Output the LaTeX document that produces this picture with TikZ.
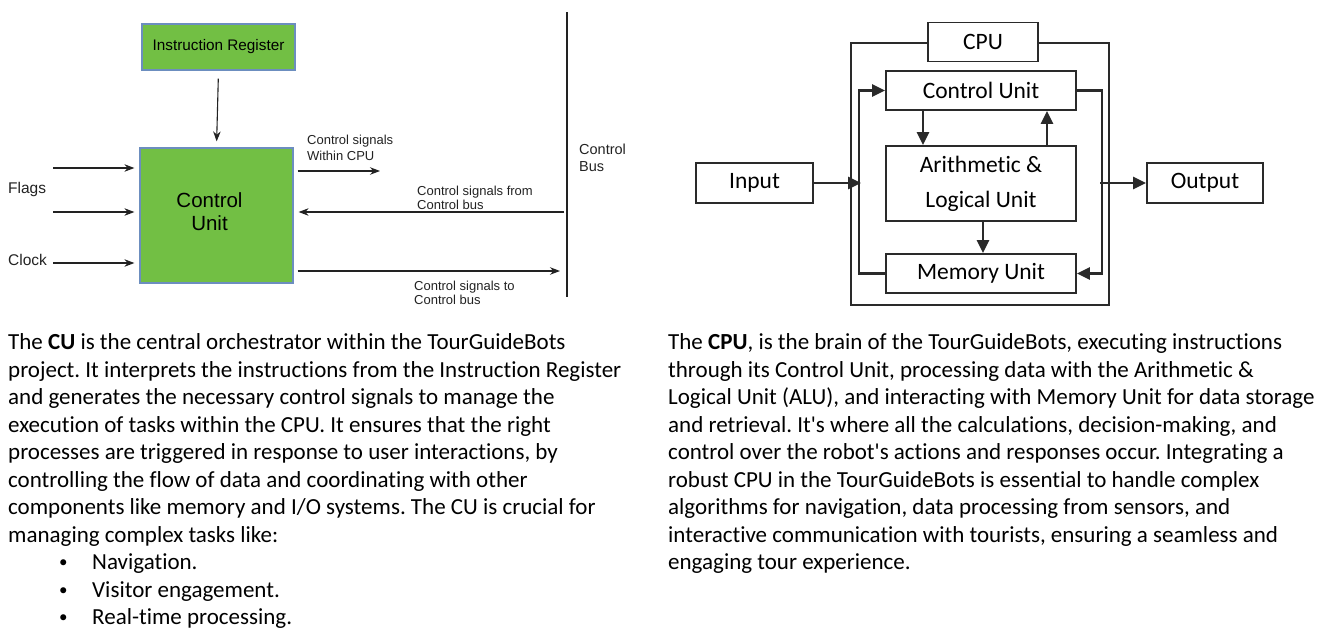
\documentclass[tikz,border=0pt]{standalone}
\usepackage{fontspec}
\setmainfont{Carlito}[Ligatures={TeXOff,NoCommon}]
\newfontfamily\arialf{Liberation Sans}
\usetikzlibrary{arrows.meta}
\definecolor{cugreen}{HTML}{72BF44}
\definecolor{cuborder}{HTML}{6C8EBF}
\definecolor{ink}{HTML}{222222}
\definecolor{rink}{HTML}{2A2A2A}
\frenchspacing
\begin{document}
\begin{tikzpicture}[x=1pt,y=-1pt,
  gbox/.style={draw=cuborder,line width=1.2pt,fill=cugreen,inner sep=0pt},
  larrow/.style={draw=ink,line width=1.1pt,-{Stealth[length=10pt,width=7.5pt]}},
  lbl/.style={font=\arialf\fontsize{13}{15}\selectfont,anchor=base west,inner sep=0pt,text=ink},
  sidelbl/.style={font=\arialf\fontsize{15.5}{18}\selectfont,anchor=base west,inner sep=0pt,text=ink},
  rbox/.style={draw=rink,line width=1.8pt,fill=white,inner sep=0pt,font=\fontsize{23.5}{35}\selectfont,align=center},
  rline/.style={draw=rink,line width=2pt},
  rarrow/.style={draw=rink,line width=2.6pt,-{Triangle[length=13pt,width=12pt]}},
  body/.style={font=\fontsize{23}{27.5}\selectfont,anchor=base west,inner sep=0pt},
  bul/.style={font=\fontsize{17}{20}\selectfont,anchor=base west,inner sep=0pt}
]
\useasboundingbox (0,0) rectangle (1319,632);

% ---------------- left diagram ----------------
\node[gbox,minimum width=153pt,minimum height=46pt,font=\arialf\fontsize{15.3}{17}\selectfont] (ir) at (218.5,47) {Instruction Register};
\node[gbox,minimum width=153pt,minimum height=135pt] (cu) at (216.5,215.5) {};
\node[font=\arialf\fontsize{20.5}{23}\selectfont,align=center,inner sep=0pt] (cutext) at (209.5,212) {Control\\Unit};
\draw[larrow,shorten <=8pt,shorten >=6pt] (ir.south) -- (cu.north);

\coordinate (f1) at (53,168);
\coordinate (f2) at (53,212);
\coordinate (f3) at (53,263);
\draw[larrow,shorten >=5pt] (f1) -- (cu.west |- f1);
\draw[larrow,shorten >=5pt] (f2) -- (cu.west |- f2);
\draw[larrow,shorten >=5pt] (f3) -- (cu.west |- f3);
\node[sidelbl] (flags) at (8,193.5) {Flags};
\node[sidelbl] (clock) at (8,265.5) {Clock};

% control bus
\coordinate (busT) at (567,12);
\coordinate (busB) at (567,297);
\draw[draw=ink,line width=1.1pt] (busT) -- (busB);
\node[sidelbl,font=\arialf\fontsize{14.5}{17}\selectfont] (cb1) at (579,154.5) {Control};
\node[sidelbl,font=\arialf\fontsize{14.5}{17}\selectfont] (cb2) at (579,171.5) {Bus};

\coordinate (w1) at (380,171);
\draw[larrow,shorten <=4pt] (cu.east |- w1) -- (w1);
\node[lbl] (l1a) at (307,144.5) {Control signals};
\node[lbl] (l1b) at (307,160) {Within CPU};

\coordinate (fb) at (564,212);
\draw[larrow,shorten >=5pt] (fb) -- (cu.east |- fb);
\node[lbl] (l2a) at (417,195) {Control signals from};
\node[lbl] (l2b) at (417,209.5) {Control bus};

\coordinate (tb) at (560,271);
\draw[larrow,shorten <=4pt] (cu.east |- tb) -- (tb);
\node[lbl] (l3a) at (414,290) {Control signals to};
\node[lbl] (l3b) at (414,304) {Control bus};

% ---------------- right diagram ----------------
\coordinate (fbl) at (851,305);
\coordinate (ftr) at (1109,43);
\draw[rline] (928,43) -| (fbl) -| (ftr) -- (1038,43);
\node[rbox,minimum width=110pt,minimum height=39pt] (cpu) at (983,42) {CPU};
\node[rbox,minimum width=190pt,minimum height=39pt] (cuR) at (981,90.5) {\raisebox{-2pt}{Control Unit}};
\node[rbox,minimum width=190pt,minimum height=75pt] (alu) at (981,183.5) {Arithmetic \&\\Logical Unit};
\node[rbox,minimum width=190pt,minimum height=39pt] (mem) at (981,273.5) {\raisebox{-3pt}{Memory Unit}};
\node[rbox,minimum width=117pt,minimum height=40pt] (input) at (754.5,183) {Input};
\node[rbox,minimum width=116pt,minimum height=40pt] (output) at (1205,183) {Output};

\draw[rarrow] (mem.west) -- ++(-26,0) |- (cuR.west);
\draw[rarrow] (cuR.east) -- ++(25,0) |- (mem.east);
\coordinate (lbx) at (861,183);
\coordinate (rbx) at (1100,183);
\draw[rarrow] (input.east) -- (lbx);
\draw[rarrow] (rbx) -- (output.west);
\draw[rarrow] ([xshift=-58pt]cuR.south) -- ([xshift=-58pt]alu.north);
\draw[rarrow] ([xshift=66pt]alu.north) -- ([xshift=66pt]cuR.south);
\draw[rarrow] ([xshift=2pt]alu.south) -- ([xshift=2pt]mem.north);

% ---------------- left text ----------------
\node[body] (a1) at (8,349.5) {The \textbf{CU} is the central orchestrator within the TourGuideBots};
\node[body] (a2) at (8,377) {project. It interprets the instructions from the Instruction Register};
\node[body] (a3) at (8,404.5) {and generates the necessary control signals to manage the};
\node[body] (a4) at (8,432) {execution of tasks within the CPU. It ensures that the right};
\node[body] (a5) at (8,459.5) {processes are triggered in response to user interactions, by};
\node[body] (a6) at (8,487) {controlling the flow of data and coordinating with other};
\node[body] (a7) at (8,514.5) {components like memory and I/O systems. The CU is crucial for};
\node[body] (a8) at (8,542) {managing complex tasks like:};
\node[bul] (b1) at (59,567.5) {•};
\node[bul] (b2) at (59,595) {•};
\node[bul] (b3) at (59,622.5) {•};
\node[body] (c1) at (92,569.5) {Navigation.};
\node[body] (c2) at (92,597) {Visitor engagement.};
\node[body] (c3) at (92,624.5) {Real-time processing.};

% ---------------- right text ----------------
\node[body] (r1) at (668,349.5) {The \textbf{CPU}, is the brain of the TourGuideBots, executing instructions};
\node[body] (r2) at (668,377) {through its Control Unit, processing data with the Arithmetic \&};
\node[body] (r3) at (668,404.5) {Logical Unit (ALU), and interacting with Memory Unit for data storage};
\node[body] (r4) at (668,432) {and retrieval. It's where all the calculations, decision-making, and};
\node[body] (r5) at (668,459.5) {control over the robot's actions and responses occur. Integrating a};
\node[body] (r6) at (668,487) {robust CPU in the TourGuideBots is essential to handle complex};
\node[body] (r7) at (668,514.5) {algorithms for navigation, data processing from sensors, and};
\node[body] (r8) at (668,542) {interactive communication with tourists, ensuring a seamless and};
\node[body] (r9) at (668,569.5) {engaging tour experience.};
\end{tikzpicture}
\end{document}
